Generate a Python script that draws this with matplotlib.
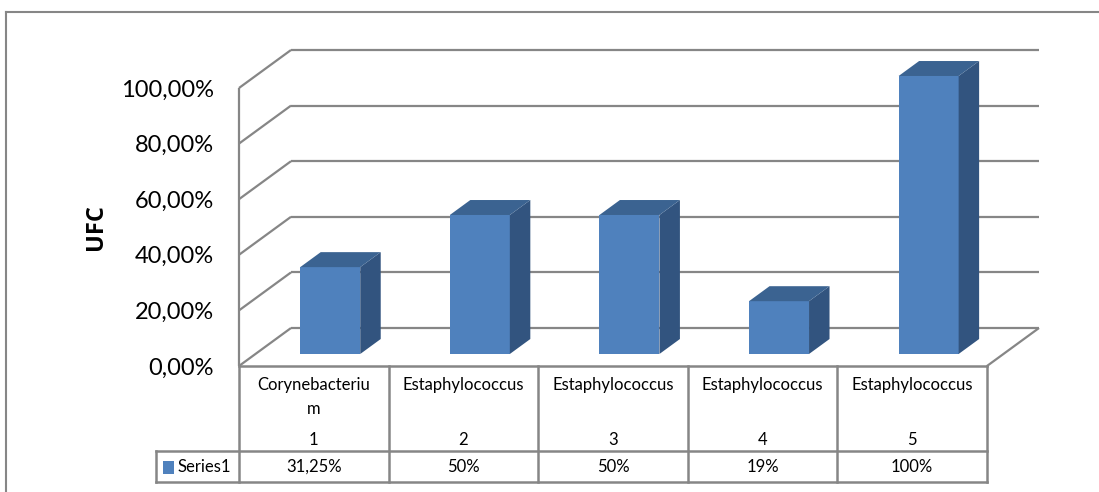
import matplotlib
matplotlib.use("Agg")
import matplotlib.pyplot as plt
from matplotlib.patches import Polygon, Rectangle
from matplotlib.lines import Line2D

plt.rcParams['font.family'] = ['Lato', 'DejaVu Sans']

# ---- data ----
categories = ["Corynebacteriu\nm", "Estaphylococcus", "Estaphylococcus",
              "Estaphylococcus", "Estaphylococcus"]
category_numbers = ["1", "2", "3", "4", "5"]
values = [0.3125, 0.50, 0.50, 0.19, 1.00]
value_labels = ["31,25%", "50%", "50%", "19%", "100%"]
series_name = "Series1"
y_ticks = [0.0, 0.2, 0.4, 0.6, 0.8, 1.0]
y_tick_labels = ["0,00%", "20,00%", "40,00%", "60,00%", "80,00%", "100,00%"]
y_label = "UFC"

# ---- styling ----
W, H = 1099, 492
grid_col = "#868686"
front_col = "#4F81BD"
side_col = "#32547F"
top_col = "#3B6391"

fig = plt.figure(figsize=(W / 100, H / 100), dpi=100)
fig.patch.set_facecolor("white")

# outer chart frame (left and top edges)
fig.add_artist(Line2D([6 / W, 6 / W], [0, 1 - 12 / H], transform=fig.transFigure,
                      color=grid_col, lw=1.5))
fig.add_artist(Line2D([6 / W, 1], [1 - 12 / H, 1 - 12 / H], transform=fig.transFigure,
                      color=grid_col, lw=1.5))

# front plane of the 3-D box
x0, x1 = 239, 987
y0, y1 = 366, 88
ax = fig.add_axes([x0 / W, 1 - y0 / H, (x1 - x0) / W, (y0 - y1) / H])
n = len(values)
ax.set_xlim(0, n)
ax.set_ylim(0, 1)
for s in ax.spines.values():
    s.set_visible(False)
ax.set_xticks([])
ax.set_yticks(y_ticks)
ax.set_yticklabels(y_tick_labels, fontsize=17)
ax.tick_params(axis="y", length=0, pad=18)
ax.set_ylabel(y_label, fontsize=17, fontweight="bold", labelpad=9,
              family=["Open Sans", "DejaVu Sans"])
ax.patch.set_alpha(0)

# depth offset of the back wall (data units)
px_x = n / (x1 - x0)
px_y = 1.0 / (y0 - y1)
DX = 52 * px_x
DY = 38 * px_y

lkw = dict(color=grid_col, lw=1.6, clip_on=False, solid_capstyle="butt")
# back wall gridlines and side-wall diagonals
for v in y_ticks:
    ax.plot([DX, n + DX], [v + DY, v + DY], **lkw, zorder=1)
    ax.plot([0, DX], [v, v + DY], **lkw, zorder=1)
# front left edge and floor right diagonal
ax.plot([0, 0], [0, 1], **lkw, zorder=1)
ax.plot([n, n + DX], [0, DY], **lkw, zorder=1)

# bars: front face, side and top
d0, d1 = 0.316, 0.71
bw = 60 * px_x
for i, v in enumerate(values):
    xc = i + 0.5 + d0 * DX
    base = d0 * DY
    bars = ax.bar(xc, v, width=bw, bottom=base, color=front_col, edgecolor="none",
                  zorder=3)
    for b in bars:
        b.set_clip_on(False)
    xl, xr = xc - bw / 2, xc + bw / 2
    ddx, ddy = (d1 - d0) * DX, (d1 - d0) * DY
    side = Polygon([(xr, base), (xr + ddx, base + ddy), (xr + ddx, base + v + ddy),
                    (xr, base + v)], closed=True, facecolor=side_col,
                   edgecolor="none", zorder=3, clip_on=False)
    top = Polygon([(xl, base + v), (xr, base + v), (xr + ddx, base + v + ddy),
                   (xl + ddx, base + v + ddy)], closed=True, facecolor=top_col,
                  edgecolor="none", zorder=3, clip_on=False)
    ax.add_patch(side)
    ax.add_patch(top)

# ---- data table under the chart ----
row1 = (366 - 451) * px_y
row2 = (366 - 482) * px_y
leg_x = (156 - x0) * px_x
tkw = dict(color=grid_col, lw=1.8, clip_on=False, solid_capstyle="projecting")
ax.plot([0, n], [0, 0], **tkw)
ax.plot([leg_x, n], [row1, row1], **tkw)
ax.plot([leg_x, n], [row2, row2], **tkw)
ax.plot([leg_x, leg_x], [row1, row2], **tkw)
for i in range(n + 1):
    ax.plot([i, i], [0, row2], **tkw)

fs = 12
for i in range(n):
    ax.text(i + 0.5, (366 - 377) * px_y, categories[i], ha="center", va="top",
            fontsize=fs, linespacing=1.6, color="black", clip_on=False)
    ax.text(i + 0.5, (366 - 440) * px_y, category_numbers[i], ha="center",
            va="center", fontsize=fs, color="black", clip_on=False)
    ax.text(i + 0.5, (row1 + row2) / 2, value_labels[i], ha="center",
            va="center", fontsize=fs, color="black", clip_on=False)

# legend key inside the table
ax.add_patch(Rectangle(((163 - x0) * px_x, (366 - 474) * px_y), 11 * px_x, 13 * px_y,
                       facecolor=front_col, edgecolor="none", clip_on=False))
ax.text((177 - x0) * px_x, (row1 + row2) / 2, series_name, ha="left", va="center",
        fontsize=fs, color="black", clip_on=False)

fig.savefig("out.png", dpi=100)
